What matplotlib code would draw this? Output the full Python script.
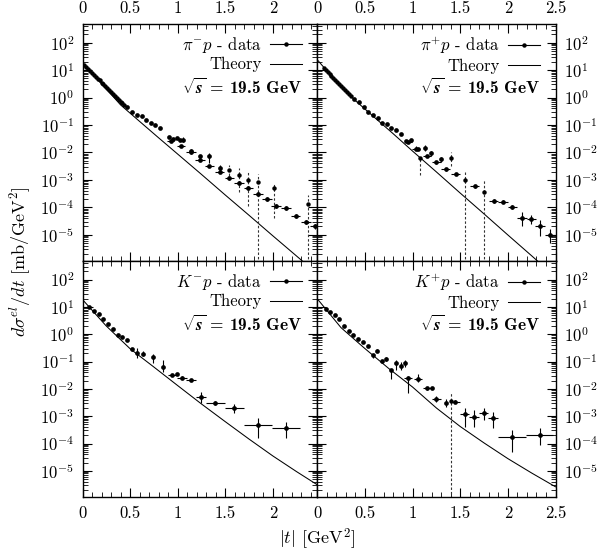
import numpy as np
import matplotlib
matplotlib.use('Agg')
import matplotlib.pyplot as plt
from matplotlib.ticker import FixedLocator, FixedFormatter, MultipleLocator, LogLocator, NullFormatter
from matplotlib.lines import Line2D
from matplotlib.mathtext import MathTextParser
from matplotlib.font_manager import FontProperties, findfont

plt.rcParams['font.family'] = 'serif'
plt.rcParams['font.serif'] = ['cmr10']
plt.rcParams['mathtext.fontset'] = 'cm'
plt.rcParams['axes.formatter.use_mathtext'] = True

# ---------------- data ----------------
# theory curves
th_t = [0, 0.1, 0.2, 0.3, 0.4, 0.6, 0.8, 1.0, 1.25, 1.5, 1.75, 2.0, 2.25, 2.5]
pim_th = [19.1, 7.6, 3.16, 1.32, 0.54, 0.135, 0.034, 8.7e-3, 1.58e-3, 2.8e-4, 5.1e-5, 9.1e-6, 1.66e-6, 3.0e-7]
pip_th = [24.0, 9.55, 3.98, 1.70, 0.776, 0.19, 0.047, 0.0112, 1.95e-3, 3.3e-4, 5.75e-5, 9.8e-6, 1.7e-6, 2.9e-7]
thk_t = [0, 0.25, 0.5, 0.75, 1.0, 1.25, 1.5, 1.75, 2.0, 2.25, 2.5]
km_th = [18.6, 2.0, 0.295, 0.063, 0.0132, 2.8e-3, 6.3e-4, 1.45e-4, 3.5e-5, 9.3e-6, 2.6e-6]
kp_th = [20.0, 1.74, 0.30, 0.056, 0.0117, 2.0e-3, 4.2e-4, 1.05e-4, 2.8e-5, 8.3e-6, 2.6e-6]

# pi- p data
pim_dense_t = [0.02, 0.04, 0.06, 0.08, 0.10, 0.12, 0.14, 0.16, 0.18, 0.20, 0.22,
               0.24, 0.26, 0.28, 0.30, 0.32, 0.34, 0.36, 0.38, 0.40, 0.42, 0.44]
pim_dense_y = [15.1, 13.0, 11.0, 9.3, 8.0, 6.8, 5.7, 4.9, 4.2, 3.5, 3.0,
               2.6, 2.2, 1.85, 1.6, 1.35, 1.15, 0.98, 0.83, 0.71, 0.61, 0.52]
pim_t = [0.465, 0.517, 0.570, 0.622, 0.668, 0.717, 0.762, 0.815, 0.913, 0.955, 0.990, 1.020,
         1.060, 1.140, 1.235, 1.333, 1.440,
         0.927, 1.036, 1.140, 1.235, 1.333, 1.440, 1.544, 1.646, 1.744, 1.842, 1.937,
         2.035, 2.137, 2.240, 2.347, 2.445]
pim_y = [0.45, 0.31, 0.234, 0.204, 0.155, 0.117, 0.102, 0.078, 0.038, 0.031, 0.034, 0.028,
         0.029, 0.0117, 0.0071, 0.0071, 0.0027,
         0.027, 0.0166, 0.0100, 0.0054, 0.0032, 0.0020, 0.0012, 7.6e-4, 5.0e-4, 3.1e-4, 2.0e-4,
         1.15e-4, 9.3e-5, 4.9e-5, 2.9e-5, 2.0e-5]
pim_dt = [0, 0, 0, 0, 0, 0, 0, 0, 0, 0, 0, 0,
          0, 0, 0, 0, 0,
          0.035, 0.045, 0.05, 0.05, 0.05, 0.05, 0.05, 0.05, 0.05, 0.05, 0.05,
          0.05, 0.05, 0.05, 0.05, 0.05]
pim_dn = [0, 0, 0, 0, 0, 0, 0, 0, 0, 0, 0, 0,
          0.08, 0.05, 0.05, 0.25, 0.12,
          0.04, 0.04, 0.04, 0.05, 0.05, 0.05, 0.05, 0.06, 0.06, 0.06, 0.07,
          0.07, 0.08, 0.08, 0.09, 0.10]
pim_up = [0, 0, 0, 0, 0, 0, 0, 0, 0, 0, 0, 0,
          0.10, 0.05, 0.05, 0.12, 0.12,
          0.04, 0.04, 0.04, 0.05, 0.05, 0.05, 0.05, 0.06, 0.06, 0.06, 0.07,
          0.07, 0.08, 0.08, 0.09, 0.10]
pim_dash_t = [1.544, 1.646, 1.744, 1.842, 2.014, 2.368]
pim_dash_y = [0.0022, 0.0015, 0.0010, 8.7e-4, 5.2e-4, 1.3e-4]
pim_dash_lo = [1.0e-3, 3.7e-4, 1.1e-4, 1e-7, 4.0e-5, 1e-7]
pim_dash_hi = [3.5e-3, 2.7e-3, 2.0e-3, 1.7e-3, 7.6e-4, 2.8e-4]

# pi+ p data
pip_dense_t = [0.07, 0.09, 0.11, 0.13, 0.15, 0.17, 0.19, 0.21, 0.23, 0.25, 0.27, 0.29, 0.31, 0.33, 0.35]
pip_dense_y = [11.7, 9.8, 8.3, 7.1, 6.0, 5.0, 4.3, 3.6, 3.1, 2.6, 2.2, 1.86, 1.58, 1.32, 1.12]
pip_t = [0.384, 0.436, 0.488, 0.534, 0.586, 0.635, 0.680, 0.733, 0.779, 0.831, 0.876, 0.930, 0.980,
         1.060, 1.128, 1.198, 1.303,
         0.955, 1.034, 1.152, 1.250, 1.348, 1.453, 1.652, 1.851, 1.949, 2.047, 2.148, 2.246,
         2.340, 2.440]
pip_y = [0.89, 0.66, 0.45, 0.31, 0.234, 0.178, 0.117, 0.107, 0.078, 0.063, 0.047, 0.025, 0.0275,
         0.0132, 0.0145, 0.0093, 0.0056,
         0.024, 0.0132, 0.0076, 0.0043, 0.00245, 0.00162, 5.8e-4, 1.7e-4, 1.62e-4, 1.0e-4, 4.0e-5, 3.8e-5,
         2.0e-5, 1.0e-5]
pip_dt = [0, 0, 0, 0, 0, 0, 0, 0, 0, 0, 0, 0, 0,
          0, 0, 0, 0,
          0.035, 0.04, 0.04, 0.045, 0.045, 0.045, 0.05, 0.05, 0.05, 0.05, 0.05, 0.05,
          0.05, 0.05]
pip_dn = [0, 0, 0, 0, 0, 0, 0, 0, 0, 0, 0, 0, 0,
          0.04, 0.12, 0.10, 0.10,
          0.04, 0.04, 0.04, 0.05, 0.05, 0.05, 0.06, 0.07, 0.07, 0.08, 0.27, 0.20,
          0.35, 0.30]
pip_up = [0, 0, 0, 0, 0, 0, 0, 0, 0, 0, 0, 0, 0,
          0.04, 0.12, 0.10, 0.10,
          0.04, 0.12, 0.04, 0.05, 0.05, 0.05, 0.06, 0.07, 0.07, 0.08, 0.22, 0.15,
          0.25, 0.20]
pip_dash_t = [1.075, 1.400, 1.547, 1.750]
pip_dash_y = [0.0062, 0.0062, 1.0e-3, 3.7e-4]
pip_dash_lo = [1.5e-3, 3.2e-3, 1e-7, 1e-7]
pip_dash_hi = [7.0e-3, 0.010, 2.0e-3, 1.07e-3]

# K- p data
km_t = [0.121, 0.170, 0.219, 0.268, 0.317, 0.370, 0.419, 0.471, 0.520, 0.570, 0.640, 0.745, 0.843, 0.990,
        0.070, 0.938, 1.043, 1.141, 1.246, 1.393, 1.593, 1.842, 2.140]
km_y = [6.9, 5.4, 3.5, 2.3, 1.62, 0.91, 0.76, 0.60, 0.28, 0.20, 0.186, 0.141, 0.065, 0.035,
        10.3, 0.032, 0.026, 0.021, 0.0049, 0.0030, 0.0020, 4.8e-4, 3.6e-4]
km_dt = [0, 0, 0, 0, 0, 0, 0, 0, 0, 0, 0, 0, 0, 0,
         0.04, 0.04, 0.05, 0.05, 0.05, 0.10, 0.10, 0.145, 0.15]
km_dn = [0, 0, 0, 0, 0, 0, 0, 0, 0.05, 0.18, 0.05, 0.20, 0.20, 0,
         0.03, 0.04, 0.04, 0.04, 0.22, 0.08, 0.20, 0.49, 0.37]
km_up = [0, 0, 0, 0, 0, 0, 0, 0, 0.05, 0.20, 0.10, 0.12, 0.25, 0,
         0.03, 0.04, 0.04, 0.04, 0.20, 0.08, 0.16, 0.24, 0.24]

# K+ p data
kp_t = [0.090, 0.132, 0.184, 0.230, 0.280, 0.335, 0.376, 0.430, 0.480, 0.534, 0.586, 0.628, 0.680,
        0.726, 0.779, 0.831, 0.876, 0.925, 1.200, 1.348,
        0.953, 1.058, 1.152, 1.250, 1.449, 1.547, 1.645, 1.746, 1.844, 2.043, 2.333]
kp_y = [8.7, 6.5, 4.9, 3.5, 1.95, 1.32, 0.91, 0.69, 0.52, 0.36, 0.18, 0.245, 0.107,
        0.129, 0.051, 0.085, 0.068, 0.089, 0.0105, 0.0031,
        0.026, 0.023, 0.0105, 0.0043, 0.0034, 1.17e-3, 9.3e-4, 1.29e-3, 8.5e-4, 1.7e-4, 2.0e-4]
kp_dt = [0, 0, 0, 0, 0, 0, 0, 0, 0, 0, 0, 0, 0,
         0, 0, 0, 0, 0, 0, 0,
         0.04, 0.045, 0.045, 0.045, 0.045, 0.05, 0.05, 0.05, 0.05, 0.15, 0.14]
kp_dn = [0, 0, 0, 0, 0, 0, 0, 0, 0, 0, 0.12, 0, 0.10,
         0.10, 0.33, 0.23, 0.15, 0.15, 0, 0.17,
         0.56, 0.12, 0.05, 0.10, 0.05, 0.45, 0.35, 0.25, 0.37, 0.53, 0.36]
kp_up = [0, 0, 0, 0, 0, 0, 0, 0, 0, 0, 0, 0.08, 0,
         0.06, 0, 0.13, 0.15, 0.10, 0, 0.13,
         0.05, 0.18, 0.05, 0.10, 0.05, 0.22, 0.26, 0.18, 0.23, 0.27, 0.25]
kp_dash_t = [1.40]
kp_dash_y = [0.0035]
kp_dash_lo = [1e-7]
kp_dash_hi = [6.9e-3]

legend_labels = [r'$\pi^{-}p$ - data', r'$\pi^{+}p$ - data', r'$K^{-}p$ - data', r'$K^{+}p$ - data']
energy_rest = '= 19.5 GeV'
ytick_vals = [1e2, 1e1, 1e0, 1e-1, 1e-2, 1e-3, 1e-4, 1e-5]
ytick_labs = [r'$10^{2}$', r'$10^{1}$', r'$10^{0}$', r'$10^{-1}$', r'$10^{-2}$', r'$10^{-3}$', r'$10^{-4}$', r'$10^{-5}$']
xtick_vals = [0, 0.5, 1, 1.5, 2, 2.5]
xtick_labs = ['0', '0.5', '1', '1.5', '2', '2.5']

# ---------------- figure ----------------
fig = plt.figure(figsize=(5.99, 5.60), dpi=100)
L, M, R = 82.5 / 599, 317.2 / 599, 555.5 / 599
T, Mi, B = 1 - 24 / 560, 1 - 261 / 560, 1 - 497 / 560
YLIM = (1.1e-6, 4.8e2)

cand = r'$\sqrt{\boldsymbol{s}}$'
try:
    MathTextParser('path').parse(cand, dpi=100, prop=FontProperties(size=12))
    sqrt_math = cand
except Exception:
    sqrt_math = r'$\sqrt{\mathbf{s}}$'

bold_family = 'cmb10'
try:
    findfont(FontProperties(family='cmb10'), fallback_to_default=False)
except Exception:
    bold_family = None


def panel(rect, xmax, th_x, th_y, dense_t, dense_y, t, y, dt, dn, up, dash_t, dash_y, dash_lo, dash_hi,
          label, top, left):
    ax = fig.add_axes(rect)
    ax.set_yscale('log')
    ax.set_xlim(0, xmax)
    ax.set_ylim(*YLIM)
    ax.plot(th_x, th_y, color='k', lw=0.75, zorder=2)
    if dense_t:
        ax.plot(dense_t, dense_y, 'o', color='k', ms=3.2, mew=0, zorder=3)
    y = np.asarray(y, float)
    lo = y - y / 10 ** np.asarray(dn)
    hi = y * 10 ** np.asarray(up) - y
    ax.errorbar(t, y, xerr=dt, yerr=[lo, hi], fmt='o', color='k', ms=3.4, mew=0,
                elinewidth=0.8, capsize=0, zorder=3)
    if dash_t:
        ax.vlines(dash_t, dash_lo, dash_hi, colors='0.2', linestyles=(0, (2.2, 1.8)), lw=0.8, zorder=2)
        ax.plot(dash_t, dash_y, 'o', color='k', ms=3.2, mew=0, zorder=3)
    # ticks
    ax.xaxis.set_major_locator(FixedLocator(xtick_vals))
    ax.xaxis.set_major_formatter(FixedFormatter(xtick_labs))
    ax.xaxis.set_minor_locator(MultipleLocator(0.1))
    ax.yaxis.set_major_locator(FixedLocator(ytick_vals))
    ax.yaxis.set_major_formatter(FixedFormatter(ytick_labs))
    ax.yaxis.set_minor_locator(LogLocator(base=10, subs=np.arange(2, 10), numticks=100))
    ax.yaxis.set_minor_formatter(NullFormatter())
    ax.tick_params(which='both', direction='in', top=True, right=True, bottom=True, left=True,
                   labelsize=12)
    ax.tick_params(which='major', length=6.5, width=0.8, pad=6)
    ax.tick_params(which='minor', length=3.5, width=0.6)
    ax.tick_params(axis='x', labeltop=top, labelbottom=not top)
    ax.tick_params(axis='y', labelleft=left, labelright=not left)
    for s in ax.spines.values():
        s.set_linewidth(1.0)
    h_data = Line2D([], [], color='k', marker='o', ms=3.2, mew=0, lw=0.8)
    h_th = Line2D([], [], color='k', lw=0.75)
    ax.legend([h_data, h_th], [label, 'Theory'], loc='upper right', bbox_to_anchor=(0.935, 0.955),
              borderaxespad=0, borderpad=0, handlelength=1.9, handletextpad=0.5, labelspacing=0.15,
              markerfirst=False, frameon=False, fontsize=12)
    if bold_family:
        ax.text(0.935, 0.735, sqrt_math + ' ' + energy_rest, transform=ax.transAxes, ha='right',
                va='center', fontsize=12.5, family=bold_family)
    else:
        ax.text(0.935, 0.735, sqrt_math + ' ' + energy_rest, transform=ax.transAxes, ha='right',
                va='center', fontsize=12.5, fontweight='bold')
    return ax


panel([L, Mi, M - L, T - Mi], 2.466, th_t, pim_th, pim_dense_t, pim_dense_y, pim_t, pim_y, pim_dt, pim_dn, pim_up,
      pim_dash_t, pim_dash_y, pim_dash_lo, pim_dash_hi, legend_labels[0], True, True)
panel([M, Mi, R - M, T - Mi], 2.5, th_t, pip_th, pip_dense_t, pip_dense_y, pip_t, pip_y, pip_dt, pip_dn, pip_up,
      pip_dash_t, pip_dash_y, pip_dash_lo, pip_dash_hi, legend_labels[1], True, False)
panel([L, B, M - L, Mi - B], 2.466, thk_t, km_th, [], [], km_t, km_y, km_dt, km_dn, km_up,
      [], [], [], [], legend_labels[2], False, True)
panel([M, B, R - M, Mi - B], 2.5, thk_t, kp_th, [], [], kp_t, kp_y, kp_dt, kp_dn, kp_up,
      kp_dash_t, kp_dash_y, kp_dash_lo, kp_dash_hi, legend_labels[3], False, False)

fig.text(0.035, 0.532, r'$d\sigma^{el}/dt$ [mb/GeV$^2$]', rotation=90, ha='center', va='center', fontsize=13)
fig.text(0.529, 0.036, r'$|t|$ [GeV$^2$]', ha='center', va='center', fontsize=13)

fig.savefig('out.png', dpi=100)
